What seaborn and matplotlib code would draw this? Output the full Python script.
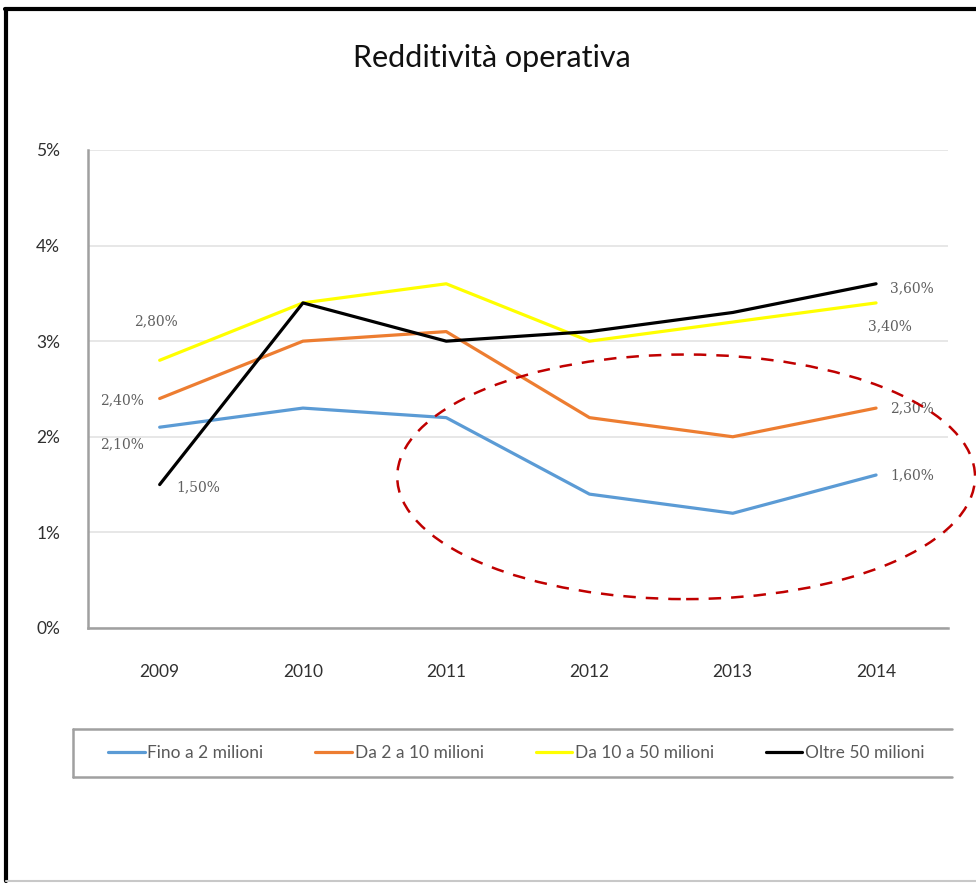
import pandas as pd
import numpy as np
import seaborn as sns
import matplotlib.pyplot as plt
from matplotlib.patches import Ellipse
from matplotlib.lines import Line2D

# Data (percent)
years = [2009, 2010, 2011, 2012, 2013, 2014]
series_names = ['Fino a 2 milioni', 'Da 2 a 10 milioni', 'Da 10 a 50 milioni', 'Oltre 50 milioni']
fino_2 = [2.1, 2.3, 2.2, 1.4, 1.2, 1.6]
da_2_10 = [2.4, 3.0, 3.1, 2.2, 2.0, 2.3]
da_10_50 = [2.8, 3.4, 3.6, 3.0, 3.2, 3.4]
oltre_50 = [1.5, 3.4, 3.0, 3.1, 3.3, 3.6]
y_ticks = [0, 1, 2, 3, 4, 5]

colors = ['#5B9BD5', '#ED7D31', '#FFFF00', '#000000']

df = pd.DataFrame({
    'year': years * 4,
    'value': fino_2 + da_2_10 + da_10_50 + oltre_50,
    'serie': [n for n in series_names for _ in years],
})

sns.set_style('white')
plt.rcParams['font.family'] = ['Lato', 'DejaVu Sans']

fig = plt.figure(figsize=(9.76, 8.83), dpi=100)
ax = fig.add_axes([0.0902, 0.2888, 0.8808, 0.5414])

sns.lineplot(data=df, x='year', y='value', hue='serie', palette=colors,
             hue_order=series_names, linewidth=2.3, ax=ax, legend=False)

ax.set_xlim(2008.5, 2014.5)
ax.set_ylim(0, 5)
ax.set_xticks(years)
ax.set_xticklabels([str(y) for y in years], fontsize=12.5, color='#303030')
ax.set_yticks(y_ticks)
ax.set_yticklabels([f'{t}%' for t in y_ticks], fontsize=12.5, color='#303030')
ax.tick_params(axis='both', length=0)
ax.tick_params(axis='y', pad=20)
ax.tick_params(axis='x', pad=26)
ax.set_xlabel('')
ax.set_ylabel('')
ax.grid(axis='y', color='#E3E3E3', linewidth=1.2)
for s in ['top', 'right']:
    ax.spines[s].set_visible(False)
for s in ['left', 'bottom']:
    ax.spines[s].set_color('#A0A0A0')
    ax.spines[s].set_linewidth(1.8)

# data labels on first and last points
def lab(v):
    return f'{v:.2f}'.replace('.', ',') + '%'

lab_style = dict(fontsize=10, color='#606060', family='DejaVu Serif',
                 textcoords='offset points', va='center')
first_offsets = [(-27, -12), (-27, -1), (-3, 28), (28, -2)]
last_offsets = [(26, 0), (26, 0), (10, -17), (26, -3)]
vals = [fino_2, da_2_10, da_10_50, oltre_50]
for v, fo, lo in zip(vals, first_offsets, last_offsets):
    ax.annotate(lab(v[0]), (years[0], v[0]), xytext=fo, ha='center', **lab_style)
    ax.annotate(lab(v[-1]), (years[-1], v[-1]), xytext=lo, ha='center', **lab_style)

# title
fig.text(0.504, 0.934, 'Redditività operativa', ha='center', va='center',
         fontsize=22, color='#111111')

# legend (frame drawn separately: open on the right like the original)
handles = [Line2D([0], [0], color=c, linewidth=2.3) for c in colors]
leg = fig.legend(handles, series_names, ncol=4, loc='center',
                 bbox_to_anchor=(0.529, 0.147), fontsize=12.5,
                 handlelength=2.1, handletextpad=0.15, columnspacing=3.0,
                 frameon=False, borderaxespad=0)
for t in leg.get_texts():
    t.set_color('#595959')

x0, x1 = 73 / 976, 952 / 976
y0, y1 = 1 - 777 / 883, 1 - 729 / 883
for xs, ys in [([x0, x1], [y1, y1]), ([x0, x1], [y0, y0]), ([x0, x0], [y0, y1])]:
    fig.add_artist(Line2D(xs, ys, color='#A0A0A0', linewidth=1.8,
                          transform=fig.transFigure))

# highlight ellipse
fig.add_artist(Ellipse((0.703, 0.460), 0.592, 0.277, transform=fig.transFigure,
                       fill=False, edgecolor='#C00000', linestyle=(0, (5, 4)),
                       linewidth=1.8, clip_on=False))

# outer frame
fig.add_artist(Line2D([0.005, 1.0], [0.99, 0.99], color='black', linewidth=3,
                      transform=fig.transFigure))
fig.add_artist(Line2D([0.006, 0.006], [0.002, 0.99], color='black', linewidth=3,
                      transform=fig.transFigure))
fig.add_artist(Line2D([0.006, 1.0], [0.002, 0.002], color='#C8C8C8', linewidth=1.5,
                      transform=fig.transFigure))

fig.savefig('out.png', dpi=100)
